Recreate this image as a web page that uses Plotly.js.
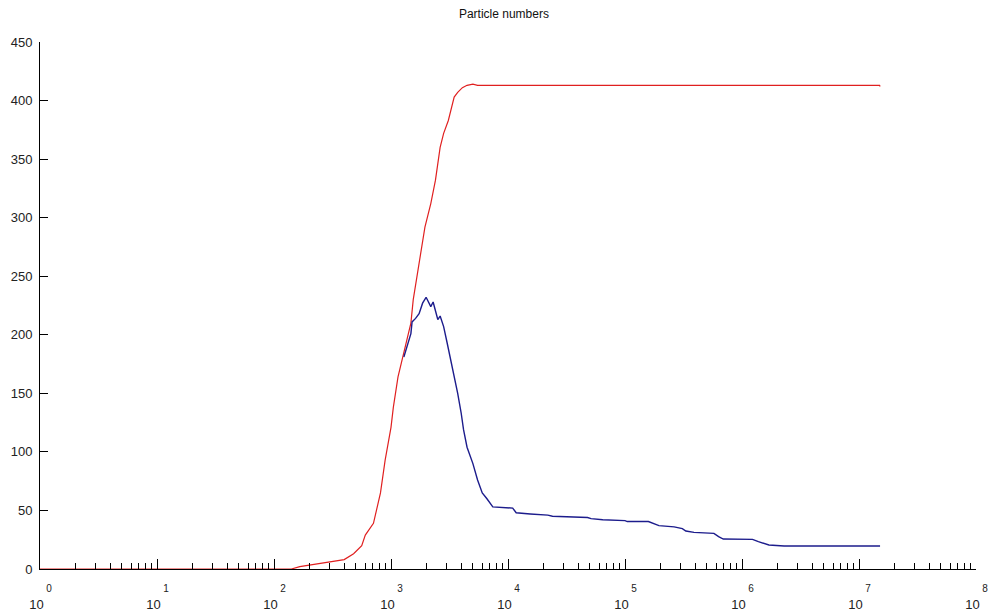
<!DOCTYPE html>
<html>
<head>
<meta charset="utf-8">
<script src="https://cdn.plot.ly/plotly-3.0.1.min.js"></script>
<style>html,body{margin:0;padding:0;background:#fff;}#chart{width:990px;height:614px;}</style>
</head>
<body>
<div id="chart"></div>
<script>
// Red series (cumulative)
const redX = [1, 141, 166, 224, 316, 398, 479, 562, 603, 708, 813, 891, 1000, 1047, 1148, 1288, 1479, 1549, 1698, 1778, 1950, 2188, 2399, 2630, 2818, 3090, 3311, 3467, 3715, 4074, 4467, 5012, 5495, 15000000, 15135612];
const redY = [0, 0, 2, 4, 6, 8, 13, 20, 29, 39, 65, 93, 121, 138, 164, 184, 210, 230, 255, 264, 292, 312, 332, 360, 372, 383, 395, 403, 407, 411, 413, 414, 413, 413, 412];
// Blue series
const blueX = [1288, 1380, 1479, 1514, 1622, 1738, 1862, 1995, 2089, 2188, 2291, 2512, 2630, 2818, 3020, 3236, 3467, 3715, 3981, 4169, 4467, 5012, 5495, 6026, 6607, 7413, 10965, 11749, 15488, 21878, 23988, 47863, 51286, 64565, 100000, 104713, 158489, 177828, 194984, 263027, 309030, 331131, 389045, 575440, 630957, 691831, 1230269, 1380384, 1698244, 2290868, 15135612];
const blueY = [181, 190, 201, 211, 214, 218, 227, 232, 228, 224, 228, 213, 216, 207, 193, 179, 167, 150, 133, 119, 104, 90, 76, 65, 60, 53, 52, 48, 47, 46, 45, 44, 43, 42, 41.3, 40.5, 40.5, 38.4, 37, 36, 34.5, 32.4, 31.3, 30.4, 27.6, 25.6, 25.3, 23.3, 20.5, 19.6, 19.6];
// Ticks
const xTickVals = [1, 10, 100, 1000, 10000, 100000, 1000000, 10000000, 100000000];
const xTickExp = ['0', '1', '2', '3', '4', '5', '6', '7', '8'];
const yTickVals = [0, 50, 100, 150, 200, 250, 300, 350, 400, 450];
const titleText = 'Particle numbers';

const pad = '\u00a0\u00a0\u00a0\u00a0\u00a0';
const xTickText = xTickExp.map(e => pad + '<span style="font-size:10px">' + e + '</span><br>10\u00a0\u00a0');

const traces = [
  {x: redX, y: redY, type: 'scatter', mode: 'lines', line: {color: '#e02020', width: 1.2}, hoverinfo: 'skip'},
  {x: blueX, y: blueY, type: 'scatter', mode: 'lines', line: {color: '#1c1c8c', width: 1.4}, hoverinfo: 'skip'}
];

const layout = {
  width: 990, height: 614,
  margin: {l: 40, r: 14, t: 42, b: 45},
  paper_bgcolor: '#fff', plot_bgcolor: '#fff',
  showlegend: false,
  font: {family: 'Liberation Sans, Arial, sans-serif', size: 13, color: '#222'},
  title: {text: titleText, font: {size: 12, color: '#111'}, x: 0.509, xanchor: 'center', y: 0.977, yanchor: 'middle'},
  xaxis: {
    type: 'log', range: [0, 8], showgrid: false, zeroline: false,
    showline: true, linecolor: '#000', linewidth: 1,
    tickmode: 'array', tickvals: xTickVals, ticktext: xTickText,
    ticks: 'inside', ticklen: 10, tickcolor: '#000', tickwidth: 1,
    ticklabelstandoff: 6, ticklabeloverflow: 'allow',
    tickfont: {size: 13, color: '#222'},
    minor: {ticks: 'inside', ticklen: 6, tickcolor: '#000', tickwidth: 1, dtick: 'D1', showgrid: false}
  },
  yaxis: {
    range: [0, 450], showgrid: false, zeroline: false,
    showline: true, linecolor: '#000', linewidth: 1,
    tickmode: 'array', tickvals: yTickVals,
    ticks: 'inside', ticklen: 8, tickcolor: '#000', tickwidth: 1,
    ticklabelstandoff: 4,
    tickfont: {size: 13, color: '#222'}
  }
};

Plotly.newPlot('chart', traces, layout, {staticPlot: true, displayModeBar: false});
</script>
</body>
</html>
